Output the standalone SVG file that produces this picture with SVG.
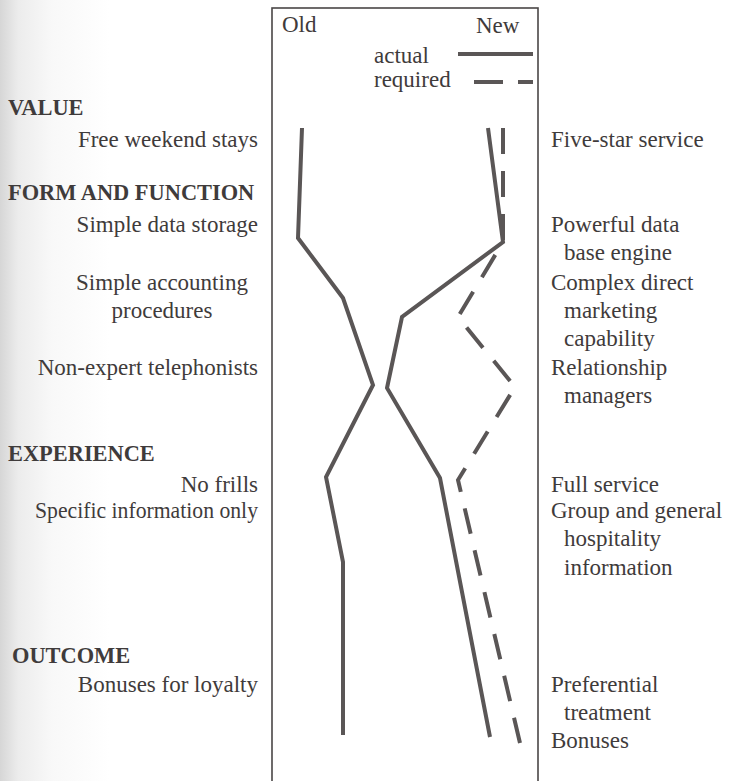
<svg xmlns="http://www.w3.org/2000/svg" width="731" height="781" viewBox="0 0 731 781">
<defs>
<linearGradient id="bg" x1="0" y1="0" x2="1" y2="0">
<stop offset="0" stop-color="#d6d6d6"/>
<stop offset="0.025" stop-color="#ececec"/>
<stop offset="0.07" stop-color="#f8f8f8"/>
<stop offset="0.15" stop-color="#ffffff"/>
<stop offset="1" stop-color="#ffffff"/>
</linearGradient>
<style>
text{font-family:"Liberation Serif","Times New Roman",serif;font-size:23px;fill:#3f3b3b}
.h{font-weight:bold;font-size:22.4px}
.r{text-anchor:end}
.c{text-anchor:middle}
.act{fill:none;stroke:#5a5656;stroke-width:4;stroke-linejoin:miter}
.req{fill:none;stroke:#5a5656;stroke-width:4;stroke-dasharray:26 17}
</style>
</defs>
<rect x="0" y="0" width="731" height="781" fill="url(#bg)"/>
<rect id="frame" x="272" y="8" width="266" height="790" fill="none" stroke="#4a4646" stroke-width="1.6"/>
<g id="header">
<text x="282" y="32">Old</text>
<text x="476" y="33">New</text>
</g>
<g id="legend">
<text x="374" y="63">actual</text>
<text x="374" y="87">required</text>
<line x1="458" y1="54" x2="533" y2="54" class="act"/>
<line x1="474" y1="82" x2="533" y2="82" class="req" style="stroke-dasharray:29 15"/>
</g>
<g id="left-labels">
<text x="8" y="115" class="h">VALUE</text>
<text x="258" y="147" class="r">Free weekend stays</text>
<text x="8" y="200" class="h">FORM AND FUNCTION</text>
<text x="258" y="232" class="r">Simple data storage</text>
<text x="162" y="290" class="c">Simple accounting</text>
<text x="162" y="318" class="c">procedures</text>
<text x="258" y="375" class="r">Non-expert telephonists</text>
<text x="8" y="461" class="h">EXPERIENCE</text>
<text x="258" y="492" class="r">No frills</text>
<text x="258" y="518" class="r" textLength="223" lengthAdjust="spacingAndGlyphs">Specific information only</text>
<text x="12" y="663" class="h">OUTCOME</text>
<text x="258" y="692" class="r">Bonuses for loyalty</text>
</g>
<g id="right-labels">
<text x="551" y="147">Five-star service</text>
<text x="551" y="232">Powerful data</text>
<text x="564" y="260">base engine</text>
<text x="551" y="290">Complex direct</text>
<text x="564" y="318">marketing</text>
<text x="564" y="346">capability</text>
<text x="551" y="375">Relationship</text>
<text x="564" y="403">managers</text>
<text x="551" y="492">Full service</text>
<text x="551" y="518">Group and general</text>
<text x="564" y="546">hospitality</text>
<text x="564" y="575">information</text>
<text x="551" y="692">Preferential</text>
<text x="564" y="720">treatment</text>
<text x="551" y="748">Bonuses</text>
</g>
<g id="connectors">
<polyline id="old" class="act" points="302,128 298,238 343,298 373,385 326,477 343,562 343,735"/>
<polyline id="new-actual" class="act" points="488,128 503,242 402,317 387,388 440,478 490,737"/>
<polyline id="new-required" class="req" points="503,128 503,242 458,317 515,387 458,480 520,743"/>
</g>
</svg>
